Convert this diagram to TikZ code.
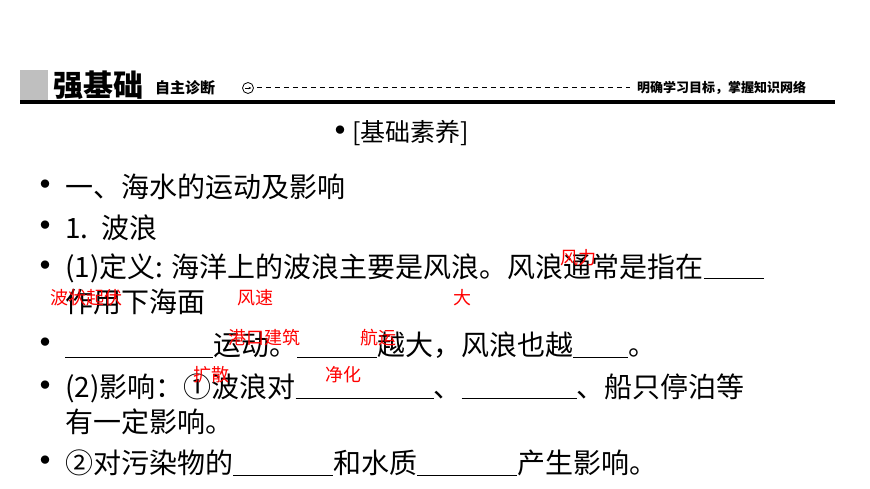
\documentclass[tikz,border=0pt]{standalone}
\usepackage{fontspec}
\usetikzlibrary{arrows.meta}
\setmainfont{Noto Sans CJK SC}
\begin{document}
\begin{tikzpicture}[x=1pt,y=-1pt,
  ln/.style={anchor=west,inner sep=0pt,font=\fontsize{28}{28}\selectfont},
  bul/.style={anchor=center,inner sep=0pt,font=\bfseries\fontsize{30}{30}\selectfont},
  red/.style={anchor=west,inner sep=0pt,text=red,font=\fontsize{18}{18}\selectfont}]
\useasboundingbox (0,0) rectangle (870,489);
\fill[white] (0,0) rectangle (870,489);
% header
\fill[gray!50] (20,70) rectangle (48,102);
\fill[black] (20,100) rectangle (835,104);
\node[anchor=west,inner sep=0pt,font=\bfseries\fontsize{30}{30}\selectfont] (hd) at (53,85) {强基础};
\node[anchor=west,inner sep=0pt,font=\bfseries\fontsize{15}{15}\selectfont] (sub) at (155,88) {自主诊断};
\node[circle,draw,line width=0.8pt,inner sep=0pt,minimum size=11pt] (arr) at (248,88) {};
\draw[-{Stealth[length=3pt]},line width=0.7pt] ([xshift=-3pt]arr.center) -- ([xshift=3.5pt]arr.center);
\draw[line width=1pt,dash pattern=on 5pt off 4pt] ([xshift=3pt]arr.east) -- (630,88);
\node[anchor=west,inner sep=0pt,font=\bfseries\fontsize{13}{13}\selectfont] (goal) at (637,88) {明确学习目标，掌握知识网络};
% title
\node[bul] (b0) at (340,134) {•};
\node[anchor=west,inner sep=0pt,font=\fontsize{25}{25}\selectfont] (title) at (352,133) {[基础素养]};
% lines
\node[bul] (b1) at (45,188) {•};
\node[ln] (l1) at (65,187) {一、海水的运动及影响};
\node[bul] (b2) at (45,229) {•};
\node[ln] (l2) at (65,228) {1.\ \ 波浪};
\node[bul] (b3) at (45,269) {•};
\node[ln] (l3) at (65,268) {(1)定义: 海洋上的波浪主要是风浪。风浪通常是指在\underline{\hspace{60pt}}};
\node[ln] (l4) at (65,302) {作用下海面};
\node[bul] (b5) at (45,346) {•};
\node[ln] (l5) at (65,345) {\underline{\hspace{148pt}}运动。\underline{\hspace{80pt}}越大，风浪也越\underline{\hspace{55pt}}。};
\node[bul] (b6) at (45,389) {•};
\node[ln] (l6) at (65,388) {(2)影响：①波浪对\underline{\hspace{138pt}}、\underline{\hspace{115pt}}、船只停泊等};
\node[ln] (l7) at (65,422) {有一定影响。};
\node[bul] (b8) at (45,464) {•};
\node[ln] (l8) at (65,463) {②对污染物的\underline{\hspace{100pt}}和水质\underline{\hspace{100pt}}产生影响。};
% red answers
\node[red] (r1) at (560,258) {风力};
\node[red] (r2) at (50,298) {波状起伏};
\node[red] (r3) at (237,298) {风速};
\node[red] (r4) at (453,298) {大};
\node[red] (r5) at (228,338) {港口建筑};
\node[red] (r6) at (360,338) {航运};
\node[red] (r7) at (193,375) {扩散};
\node[red] (r8) at (325,375) {净化};
\end{tikzpicture}
\end{document}
